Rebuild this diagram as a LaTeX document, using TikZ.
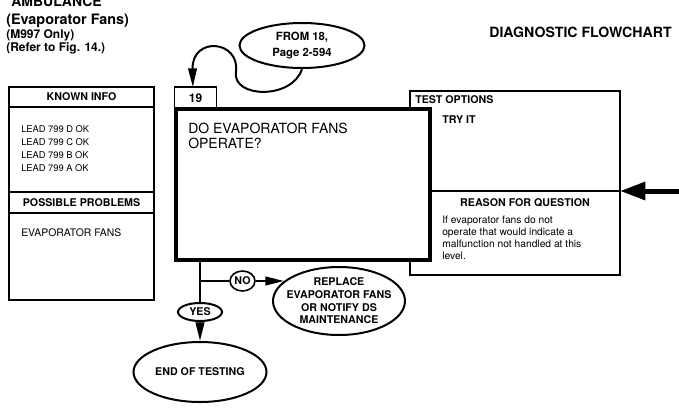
\documentclass[tikz,border=0pt]{standalone}
\usepackage{fontspec}
\setmainfont{TeX Gyre Heros}
\usetikzlibrary{arrows.meta,positioning,calc,shapes.geometric}

\begin{document}
\begin{tikzpicture}[x=0.75pt,y=-0.75pt,>={Triangle[length=14pt,width=6.5pt]},
  thinbox/.style={draw,line width=1pt,outer sep=0pt,inner sep=0pt},
  oval/.style={ellipse,draw,line width=1.5pt,inner sep=0pt,align=center,
    font=\fontsize{8}{9.5}\selectfont\bfseries},
  flow/.style={line width=1.6pt},
  hdr/.style={inner sep=0pt,font=\fontsize{8}{9.5}\selectfont\bfseries},
  txt/.style={inner sep=0pt,align=left,font=\fontsize{7.7}{9}\selectfont}]
  \fill[white] (0,0) rectangle (679,411);
  \useasboundingbox (0,0) rectangle (679,411);

  % title block
  \node[anchor=base west,inner sep=0pt,font=\fontsize{10.5}{12}\selectfont\bfseries] (amb) at (11,6) {AMBULANCE};
  \node[anchor=base west,inner sep=0pt,font=\fontsize{10.8}{12}\selectfont\bfseries] (evap) at (6,24) {(Evaporator Fans)};
  \node[anchor=base west,inner sep=0pt,align=left,font=\fontsize{9}{8.6}\selectfont\bfseries] (note) at (6,51)
    {(M997 Only)\\(Refer to Fig. 14.)};
  \node[anchor=base east,inner sep=0pt,font=\fontsize{10.6}{12}\selectfont\bfseries] (title) at (672,37) {DIAGNOSTIC FLOWCHART};

  % known info / possible problems
  \node[thinbox,hdr,minimum width=108.75pt,minimum height=15pt,anchor=north west] (knownhd) at (9,87) {KNOWN INFO};
  \node[thinbox,minimum width=108.75pt,minimum height=63.75pt,below=0pt of knownhd] (knownbd) {};
  \node[thinbox,hdr,minimum width=108.75pt,minimum height=15.75pt,below=0pt of knownbd] (probhd) {POSSIBLE PROBLEMS};
  \node[thinbox,minimum width=108.75pt,minimum height=65.25pt,below=0pt of probhd] (probbd) {};
  \node[txt,anchor=base west,font=\fontsize{7}{9.75}\selectfont] (leads) at (21,171)
    {LEAD 799 D OK\\LEAD 799 C OK\\LEAD 799 B OK\\LEAD 799 A OK};
  \node[txt,anchor=base west,font=\fontsize{7.8}{9}\selectfont] (probs) at (21,236) {EVAPORATOR FANS};

  % test options / reason
  \node[thinbox,minimum width=157.5pt,minimum height=138pt,anchor=north west] (opts) at (410,91) {};
  \node[hdr,anchor=base west] (optshd) at (415,103) {TEST OPTIONS};
  \node[hdr,anchor=base west] (tryit) at (442,123) {TRY IT};

  % question
  \node[draw,fill=white,line width=3.4pt,outer sep=0pt,inner sep=0pt,minimum width=190.5pt,
    minimum height=113.25pt,anchor=north west] (quest) at (176,109) {};
  \node[thinbox,font=\fontsize{9}{10}\selectfont\bfseries,minimum width=31.5pt,minimum height=16.5pt,
    anchor=south west] (num) at (174.5,109) {19};
  \node[anchor=base west,inner sep=0pt,align=left,font=\fontsize{10.5}{11.25}\selectfont] (qtext) at (188,148)
    {DO EVAPORATOR FANS\\OPERATE?};

  \coordinate (split) at (430,191);
  \coordinate (rin) at (679,191);
  \draw[line width=1pt] (split) -- (split -| opts.east);
  \draw[line width=3.75pt,-{Triangle[length=19pt,width=13pt]}] (rin) -- (split -| opts.east);
  \node[hdr,anchor=base] (reasonhd) at (525,206) {REASON FOR QUESTION};
  \node[txt,anchor=base west] (reason) at (442,259)
    {If evaporator fans do not\\operate that would indicate a\\malfunction not handled at this\\level.};

  % branches
  \node[oval,minimum width=93.75pt,minimum height=33.75pt,font=\fontsize{8.5}{11.5}\selectfont\bfseries] (from) at (302,45.5)
    {FROM 18,\\Page 2-594};
  \coordinate (fork) at (200,281);
  \node[oval,line width=1.2pt,minimum width=18.75pt,minimum height=15pt] (no) at (242.5,281) {NO};
  \node[oval,minimum width=99pt,minimum height=51pt] (replace) at (339,301) {};
  \node[hdr,align=center] (replacetxt) at (replace) {REPLACE\\EVAPORATOR FANS\\OR NOTIFY DS\\MAINTENANCE};
  \node[oval,minimum width=33pt,minimum height=13.5pt] (yes) at (200,312) {YES};
  \node[oval,minimum width=99.75pt,minimum height=45pt] (endt) at (200,372) {END OF TESTING};

  \draw[line width=1.5pt,->] (from.south) .. controls (292,100) and (232,98) .. (236,72)
    .. controls (240,40) and (192,36) .. ([xshift=-2pt]num.north);
  \draw[flow] (quest.south -| fork) -- (yes.north);
  \draw[flow] (fork) -- (no.west);
  \draw[flow,->] (no.east) -- (no.east -| replace.160);
  \draw[flow,->] (yes.south) -- (endt.north);
\end{tikzpicture}
\end{document}
